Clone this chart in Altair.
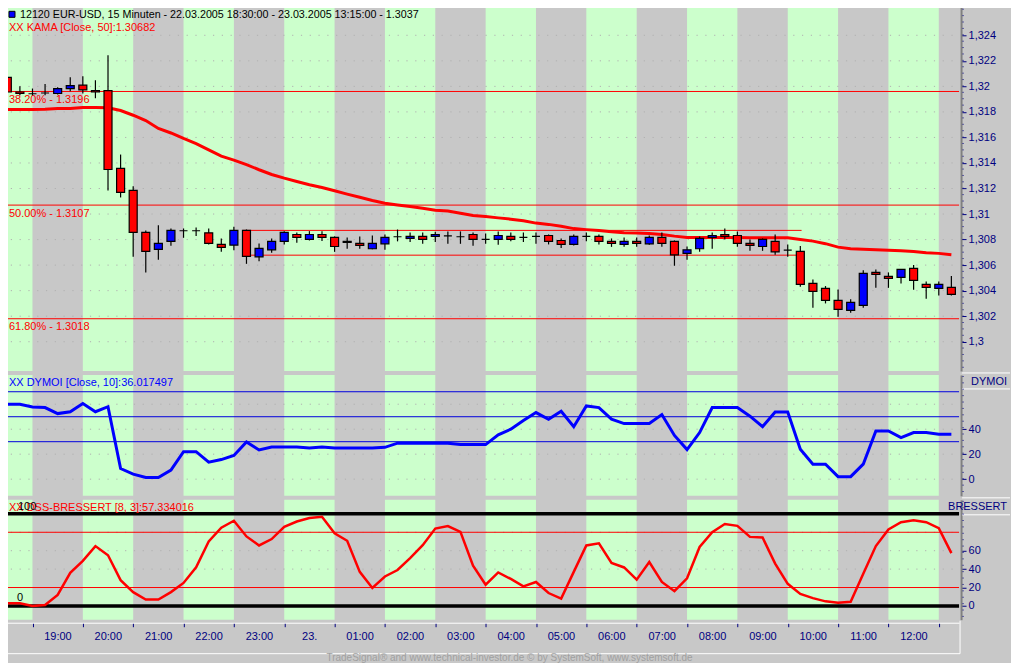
import altair as alt
import pandas as pd

# ------------------------------------------------------------------ data
opens = [1.32071, 1.31956, 1.31942, 1.31948, 1.31944, 1.31983, 1.32009, 1.31967, 1.31967, 1.31357,
         1.31185, 1.30856, 1.30723, 1.30786, 1.30869, 1.30869, 1.30853, 1.30762, 1.30757, 1.30872,
         1.30665, 1.30720, 1.30786, 1.30840, 1.30801, 1.30840, 1.30817, 1.30786, 1.30770, 1.30728,
         1.30767, 1.30822, 1.30809, 1.30825, 1.30825, 1.30829, 1.30822, 1.30840, 1.30801, 1.30801,
         1.30825, 1.30817, 1.30825, 1.30832, 1.30793, 1.30762, 1.30825, 1.30825, 1.30786, 1.30762,
         1.30786, 1.30767, 1.30817, 1.30786, 1.30692, 1.30728, 1.30817, 1.30840, 1.30832, 1.30770,
         1.30746, 1.30786, 1.30717, 1.30707, 1.30457, 1.30418, 1.30324, 1.30245, 1.30285, 1.30543,
         1.30512, 1.30504, 1.30574, 1.30449, 1.30418, 1.30426]
highs = [1.32089, 1.32001, 1.31983, 1.32019, 1.31993, 1.32071, 1.32079, 1.32048, 1.32243, 1.31466,
         1.31218, 1.30872, 1.30913, 1.30887, 1.30887, 1.30895, 1.30887, 1.30809, 1.30900, 1.30879,
         1.30770, 1.30809, 1.30866, 1.30856, 1.30866, 1.30866, 1.30825, 1.30817, 1.30825, 1.30832,
         1.30840, 1.30879, 1.30856, 1.30856, 1.30861, 1.30864, 1.30864, 1.30856, 1.30848, 1.30864,
         1.30856, 1.30856, 1.30856, 1.30840, 1.30809, 1.30840, 1.30856, 1.30840, 1.30809, 1.30817,
         1.30817, 1.30832, 1.30856, 1.30793, 1.30746, 1.30825, 1.30856, 1.30887, 1.30864, 1.30801,
         1.30809, 1.30840, 1.30762, 1.30749, 1.30488, 1.30436, 1.30410, 1.30332, 1.30559, 1.30566,
         1.30543, 1.30570, 1.30600, 1.30472, 1.30472, 1.30514]
lows = [1.31936, 1.31930, 1.31930, 1.31930, 1.31936, 1.31962, 1.31944, 1.31907, 1.31185, 1.31130,
        1.30665, 1.30543, 1.30642, 1.30751, 1.30814, 1.30829, 1.30762, 1.30704, 1.30717, 1.30610,
        1.30631, 1.30696, 1.30762, 1.30775, 1.30793, 1.30788, 1.30704, 1.30728, 1.30728, 1.30725,
        1.30720, 1.30786, 1.30782, 1.30767, 1.30782, 1.30767, 1.30767, 1.30751, 1.30767, 1.30759,
        1.30786, 1.30782, 1.30767, 1.30762, 1.30735, 1.30754, 1.30786, 1.30762, 1.30743, 1.30743,
        1.30743, 1.30759, 1.30743, 1.30595, 1.30642, 1.30704, 1.30728, 1.30801, 1.30743, 1.30712,
        1.30712, 1.30681, 1.30665, 1.30430, 1.30266, 1.30300, 1.30195, 1.30227, 1.30266, 1.30422,
        1.30422, 1.30457, 1.30407, 1.30336, 1.30363, 1.30363]
closes = [1.31956, 1.31944, 1.31942, 1.31948, 1.31983, 1.32006, 1.31972, 1.31956, 1.31349, 1.31169,
          1.30856, 1.30707, 1.30770, 1.30872, 1.30869, 1.30869, 1.30770, 1.30739, 1.30872, 1.30668,
          1.30731, 1.30786, 1.30856, 1.30817, 1.30840, 1.30817, 1.30746, 1.30778, 1.30754, 1.30770,
          1.30817, 1.30822, 1.30825, 1.30801, 1.30840, 1.30829, 1.30822, 1.30801, 1.30801, 1.30832,
          1.30801, 1.30817, 1.30825, 1.30786, 1.30762, 1.30825, 1.30825, 1.30786, 1.30770, 1.30786,
          1.30770, 1.30817, 1.30770, 1.30681, 1.30720, 1.30809, 1.30832, 1.30825, 1.30770, 1.30754,
          1.30801, 1.30704, 1.30717, 1.30449, 1.30394, 1.30324, 1.30253, 1.30308, 1.30535, 1.30527,
          1.30496, 1.30566, 1.30480, 1.30426, 1.30449, 1.30371]
kama = [1.31819, 1.31819, 1.31819, 1.31821, 1.31826, 1.31826, 1.31834, 1.31834, 1.31833, 1.31811,
        1.31774, 1.31732, 1.31670, 1.31635, 1.31592, 1.31552, 1.31502, 1.31453, 1.31422, 1.31387,
        1.31347, 1.31310, 1.31281, 1.31255, 1.31230, 1.31208, 1.31183, 1.31156, 1.31131, 1.31106,
        1.31085, 1.31071, 1.31059, 1.31046, 1.31030, 1.31023, 1.31007, 1.30989, 1.30980, 1.30970,
        1.30960, 1.30948, 1.30929, 1.30919, 1.30905, 1.30886, 1.30878, 1.30872, 1.30862, 1.30854,
        1.30851, 1.30848, 1.30840, 1.30827, 1.30817, 1.30817, 1.30817, 1.30817, 1.30817, 1.30815,
        1.30815, 1.30814, 1.30814, 1.30800, 1.30788, 1.30768, 1.30741, 1.30729, 1.30725, 1.30721,
        1.30717, 1.30712, 1.30706, 1.30696, 1.30692, 1.30682]
dymoi = [60, 60, 57.8, 57.3, 52.5, 54, 60.5, 54, 58, 8.5,
         4, 1.3, 1.3, 7.2, 22, 22, 13.6, 15.7, 19, 29.8,
         23.4, 25.8, 25.8, 25.8, 25, 25.8, 25, 25, 25, 25,
         25.5, 28.8, 28.8, 28.8, 28.8, 28.8, 27.7, 27.7, 27.7, 35.5,
         40, 47, 53.3, 48, 54.4, 42, 58.6, 57.3, 48, 44.5,
         44.5, 44.5, 51.7, 35, 23.7, 37.3, 57.3, 57.3, 57.3, 50.4,
         42, 53.8, 53.8, 24, 12, 12, 2, 2, 12, 38.6,
         38.6, 33.3, 37.3, 37.3, 36, 36.02]
dss = [3, 3, 0, 1, 12, 36, 49, 65, 55, 28,
       15, 7, 7, 15, 25, 42, 70, 85, 92.5, 75.5,
       65.7, 72.6, 86, 91.7, 95.4, 96.8, 79, 70.8, 37, 19.5,
       32, 39, 52, 66, 84, 86.7, 80.5, 43.7, 23, 36.4,
       29.3, 21.3, 26, 14, 8, 37, 65.7, 68, 46.6, 41.8,
       28.5, 47.7, 26, 16, 30, 64, 80, 89, 87, 75,
       74.4, 46, 24, 13, 8.5, 5, 3.6, 4.5, 35, 65,
       83, 91, 93, 91, 84.5, 57.3]

fib_levels = [1.3196, 1.3107, 1.3018]
fib_pcts = ["38.20%", "50.00%", "61.80%"]
box_levels = [1.30872, 1.30678]
box_span = [18.7, 63.1]
dymoi_levels = [30, 50, 70]
dss_levels = [20, 80]
dss_bounds = [0, 100]
price_ticks = [1.300, 1.302, 1.304, 1.306, 1.308, 1.310, 1.312, 1.314, 1.316, 1.318, 1.320, 1.322, 1.324]
dymoi_ticks = [0, 20, 40]
dss_ticks = [0, 20, 40, 60]
hour_labels = ["19:00", "20:00", "21:00", "22:00", "23:00", "23.", "01:00", "02:00", "03:00",
               "04:00", "05:00", "06:00", "07:00", "08:00", "09:00", "10:00", "11:00", "12:00"]
FIRST_HOUR_BAR = 2   # 19:00 is the third 15-minute bar after 18:30
BARS_PER_HOUR = 4

title_main = "12120  EUR-USD, 15 Minuten - 22.03.2005 18:30:00 - 23.03.2005 13:15:00 - 1.3037"
kama_label = "XX KAMA [Close, 50]:1.30682"
dymoi_label = "XX DYMOI [Close, 10]:36.017497"
dss_label = "XX DSS-BRESSERT [8, 3]:57.334016"
credit = "TradeSignal\u00ae and www.technical-investor.de \u00a9 by  SystemSoft, www.systemsoft.de"

# ------------------------------------------------------------------ style
FONT = "Liberation Sans"
GREEN = "#ccffcc"
GREY = "#c8c8c8"
NAVY = "#000080"
DOT = "#b0b0b0"
RED = "#ff0000"
BLUE = "#0000ff"

W = 960
H1, H2, H3 = 370, 121, 120
X_DOM = [-0.58, 75.61]
Y1_DOM = [1.29771, 1.32666]
Y2_DOM = [-13.36, 83.44]
Y3_DOM = [-14.96, 115.23]

n = len(closes)
idx = list(range(n))
candles = pd.DataFrame(dict(i=idx, open=opens, high=highs, low=lows, close=closes))
candles["dir"] = ["up" if c > o else ("down" if c < o else "flat") for o, c in zip(opens, closes)]
kama_df = pd.DataFrame(dict(i=idx, v=kama))
dymoi_df = pd.DataFrame(dict(i=idx, v=dymoi))
dss_df = pd.DataFrame(dict(i=idx, v=dss))

ticks = [FIRST_HOUR_BAR + BARS_PER_HOUR * k for k in range(len(hour_labels) + 1)]
stripe_rows = [(X_DOM[0], ticks[0])] + [(ticks[k], ticks[k + 1]) for k in range(1, len(ticks) - 1, 2)]
stripes_df = pd.DataFrame(stripe_rows, columns=["s", "e"])

xs = alt.Scale(domain=X_DOM, nice=False, zero=False, padding=0)
ys1 = alt.Scale(domain=Y1_DOM, nice=False, zero=False, padding=0)
ys2 = alt.Scale(domain=Y2_DOM, nice=False, zero=False, padding=0)
ys3 = alt.Scale(domain=Y3_DOM, nice=False, zero=False, padding=0)


def yaxis(values, expr=None):
    kw = dict(values=values, orient="right", offset=2, title=None, grid=False,
              domainColor="#808080", domainWidth=2, tickColor=NAVY, tickSize=5,
              labelColor=NAVY, labelFont=FONT, labelFontSize=11, labelPadding=2)
    if expr:
        kw["labelExpr"] = expr
    return alt.Axis(**kw)


price_expr = "replace(format(datum.value, '.4~f'), '.', ',')"
AX1 = yaxis(price_ticks, price_expr)
AX2 = yaxis(dymoi_ticks)
AX3 = yaxis(dss_ticks)
XAX = alt.Axis(values=ticks, title=None, grid=False, offset=3,
               domainColor="white", domainWidth=1,
               tickColor=NAVY, tickSize=4, labelColor=NAVY, labelFont=FONT,
               labelFontSize=11, labelPadding=4, labelOffset=25,
               labelFlush=False, labelOverlap=False, labelBound=False,
               labelExpr="[" + ",".join(f"'{s}'" for s in hour_labels) + "]"
                         f"[round((datum.value - {FIRST_HOUR_BAR}) / {BARS_PER_HOUR})] || ''")


def xenc(field, axis=None):
    return alt.X(f"{field}:Q", scale=xs, axis=axis)


def stripes(h, xaxis=None):
    return alt.Chart(stripes_df).mark_rect(color=GREEN).encode(
        x=xenc("s", xaxis), x2="e", y=alt.value(0), y2=alt.value(h))


def hrule(values, scale, axis, color, width=1, dash=None):
    kw = dict(color=color, strokeWidth=width)
    if dash:
        kw["strokeDash"] = dash
    return alt.Chart(pd.DataFrame({"v": values})).mark_rule(**kw).encode(
        x=alt.value(2), x2=alt.value(W), y=alt.Y("v:Q", scale=scale, axis=axis))


def axis_dots(h):
    return alt.Chart(pd.DataFrame({"a": [0]})).mark_rule(
        color=NAVY, strokeDash=[1, 5.4], strokeWidth=1).encode(
        x=alt.value(964), y=alt.value(1), y2=alt.value(h - 1))


def white(x, x2, y, y2=None):
    enc = dict(x=alt.value(x), y=alt.value(y))
    if x2 is not None:
        enc["x2"] = alt.value(x2)
    if y2 is not None:
        enc["y2"] = alt.value(y2)
    return alt.Chart(pd.DataFrame({"a": [0]})).mark_rule(color="white", strokeWidth=1).encode(**enc)


def label(text, x, y, color, align="left", size=11):
    return alt.Chart(pd.DataFrame({"t": [text]})).mark_text(
        align=align, baseline="middle", color=color, font=FONT, fontSize=size).encode(
        x=alt.value(x), y=alt.value(y), text="t:N")


# ------------------------------------------------------------------ top panel
fib_df = pd.DataFrame({"level": fib_levels,
                       "label": [f"{p} - {l}" for p, l in zip(fib_pcts, fib_levels)]})
box_df = pd.DataFrame({"level": box_levels, "start": box_span[0], "end": box_span[1]})

fib_rules = alt.Chart(fib_df).mark_rule(color=RED, strokeWidth=1).encode(
    x=alt.value(2), x2=alt.value(W), y=alt.Y("level:Q", scale=ys1, axis=AX1))
fib_text = alt.Chart(fib_df).mark_text(
    align="left", baseline="middle", dy=8.5, color=RED, font=FONT, fontSize=11).encode(
    x=alt.value(9), y=alt.Y("level:Q", scale=ys1, axis=AX1), text="label:N")
box_rules = alt.Chart(box_df).mark_rule(color=RED, strokeWidth=1).encode(
    x=xenc("start"), x2="end", y=alt.Y("level:Q", scale=ys1, axis=AX1))
kama_line = alt.Chart(kama_df).mark_line(color=RED, strokeWidth=3).encode(
    x=xenc("i"), y=alt.Y("v:Q", scale=ys1, axis=AX1))
wicks = alt.Chart(candles).mark_rule(color="black", strokeWidth=1.2).encode(
    x=xenc("i"), y=alt.Y("low:Q", scale=ys1, axis=AX1), y2="high:Q")
bodies = alt.Chart(candles).mark_bar(size=8, stroke="black", strokeWidth=1.2).encode(
    x=xenc("i"), y=alt.Y("open:Q", scale=ys1, axis=AX1), y2="close:Q",
    color=alt.Color("dir:N", scale=alt.Scale(domain=["up", "down", "flat"],
                                              range=[BLUE, RED, "#000000"]), legend=None))
icon = alt.Chart(pd.DataFrame({"a": [0]})).mark_rect(
    color=BLUE, stroke="black", strokeWidth=1).encode(
    x=alt.value(9), x2=alt.value(15), y=alt.value(10), y2=alt.value(16))

top = alt.layer(
    stripes(H1),
    hrule(price_ticks, ys1, AX1, DOT, 1, [1.2, 7.6]),
    fib_rules, fib_text, box_rules, kama_line, wicks, bodies,
    icon,
    label(title_main, 20, 14, "black", size=10.75),
    label(kama_label, 9, 27, RED),
    axis_dots(H1),
).properties(width=W, height=H1)

# ------------------------------------------------------------------ middle panel
dy_line = alt.Chart(dymoi_df).mark_line(color=BLUE, strokeWidth=3).encode(
    x=xenc("i"), y=alt.Y("v:Q", scale=ys2, axis=AX2))

mid = alt.layer(
    stripes(H2),
    hrule([0, 20, 40, 60], ys2, AX2, DOT, 1, [1.2, 7.6]),
    hrule(dymoi_levels, ys2, AX2, "#0000dd", 1),
    dy_line,
    label(dymoi_label, 9, 8, BLUE),
    white(963, 1011, -2),
    white(963, 1011, 14),
    label("DYMOI", 1008, 7, NAVY, align="right"),
    axis_dots(H2),
).properties(width=W, height=H2)

# ------------------------------------------------------------------ bottom panel
ds_line = alt.Chart(dss_df).mark_line(color=RED, strokeWidth=2.5).encode(
    x=xenc("i", XAX), y=alt.Y("v:Q", scale=ys3, axis=AX3))

bot = alt.layer(
    stripes(H3, XAX),
    hrule([20, 40, 60, 80], ys3, AX3, DOT, 1, [1.2, 7.6]),
    hrule(dss_levels, ys3, AX3, RED, 1),
    hrule(dss_bounds, ys3, AX3, "black", 3.5),
    ds_line,
    label(dss_label, 9, 8, RED),
    label("100", 18, 7, "black"),
    label("0", 17, 98, "black"),
    white(963, 1011, -2),
    white(963, 1011, 15),
    label("BRESSERT", 1008, 7, NAVY, align="right"),
    white(2, 961, H3 + 34),
    white(961, None, H3 + 1, H3 + 34),
    label(credit, 510, H3 + 38, "#a0a0a0", align="center", size=10),
    axis_dots(H3),
).properties(width=W, height=H3)

chart = alt.vconcat(top, mid, bot, spacing=4, bounds="flush").resolve_scale(
    x="independent", y="independent", color="independent"
).properties(
    background=GREY,
    padding={"left": -8, "top": -7, "right": 0, "bottom": 0},
).configure_view(strokeWidth=0).configure_text(font=FONT)

chart.save("out.html", embed_options={"renderer": "svg", "actions": False})
